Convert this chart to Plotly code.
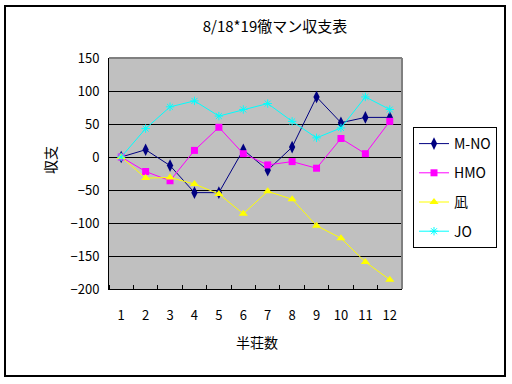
import plotly.graph_objects as go

games = [1, 2, 3, 4, 5, 6, 7, 8, 9, 10, 11, 12]
m_no = [0, 11, -13, -54, -54, 11, -20, 15, 91, 52, 60, 60]
hmo = [0, -22, -36, 10, 45, 5, -12, -7, -17, 28, 5, 54]
nagi = [0, -32, -31, -41, -56, -86, -52, -64, -104, -123, -159, -186]
jo = [0, 43, 76, 85, 62, 72, 81, 54, 29, 44, 91, 72]

names = ["M-NO", "HMO", "凪", "JO"]
FONT = "Noto Sans CJK JP"

fig = go.Figure()
styles = [
    (m_no, "#000080", dict(symbol="diamond-tall", size=9, color="#000080")),
    (hmo, "#FF00FF", dict(symbol="square", size=7, color="#FF00FF")),
    (nagi, "#FFFF00", dict(symbol="triangle-up", size=8, color="#FFFF00")),
    (jo, "#00FFFF", dict(symbol="asterisk-open", size=7, color="#00FFFF",
                         line=dict(color="#00FFFF", width=1))),
]
for name, (vals, col, mk) in zip(names, styles):
    fig.add_trace(go.Scatter(x=games, y=vals, name=name, mode="lines+markers",
                             line=dict(color=col, width=1), marker=mk,
                             legendgroup=name))

fig.update_layout(
    width=512, height=384,
    margin=dict(l=109, r=110, t=58, b=95),
    paper_bgcolor="white", plot_bgcolor="#C0C0C0",
    font=dict(family=FONT, size=12, color="black"),
    title=dict(text="8/18*19徹マン収支表", x=275/512, xanchor="center",
               y=1 - 27/384, yanchor="middle", font=dict(size=15)),
    showlegend=True,
    legend=dict(xref="container", yref="container", x=413/512, y=1 - 127/384,
                xanchor="left", yanchor="top", bgcolor="white",
                bordercolor="black", borderwidth=1, traceorder="grouped",
                tracegroupgap=8, font=dict(size=14)),
    xaxis=dict(range=[0.5, 12.5], tickmode="array", tickvals=games,
               ticktext=[str(g) for g in games], ticks="", showgrid=False,
               showline=True, linecolor="black", linewidth=1, zeroline=False,
               tickfont=dict(size=13), ticklabelstandoff=14,
               minor=dict(tick0=0.5, dtick=1, ticks="inside", ticklen=4,
                          tickcolor="black", showgrid=False)),
    yaxis=dict(range=[-200, 150], tickvals=[-200, -150, -100, -50, 0, 50, 100, 150],
               showgrid=True, gridcolor="black", gridwidth=1, zeroline=False,
               showline=True, linecolor="black", linewidth=1, ticks="",
               tickfont=dict(size=13), ticklabelstandoff=6),
    shapes=[
        dict(type="line", xref="paper", yref="paper", x0=0, x1=1, y0=1, y1=1,
             line=dict(color="#808080", width=2)),
        dict(type="line", xref="paper", yref="paper", x0=1, x1=1, y0=0, y1=1,
             line=dict(color="#808080", width=2)),
    ],
    annotations=[
        dict(text="収支", xref="paper", yref="paper", x=(50-109)/293, y=(289-160)/231,
             xanchor="center", yanchor="middle",
             showarrow=False, textangle=-90, font=dict(size=14)),
        dict(text="半荘数", xref="paper", yref="paper", x=(257-109)/293, y=-(342-289)/231,
             xanchor="center", yanchor="middle",
             showarrow=False, font=dict(size=14)),
    ],
)

# outer chart border
fig.add_shape(type="rect", xref="paper", yref="paper",
              x0=(5-109)/293, x1=(505-109)/293, y0=-(376-289)/231, y1=(289-6)/231,
              line=dict(color="black", width=2), fillcolor="rgba(0,0,0,0)")

fig.write_html("out.html", config={"displayModeBar": False},
               post_script="document.body.style.margin='0';")
